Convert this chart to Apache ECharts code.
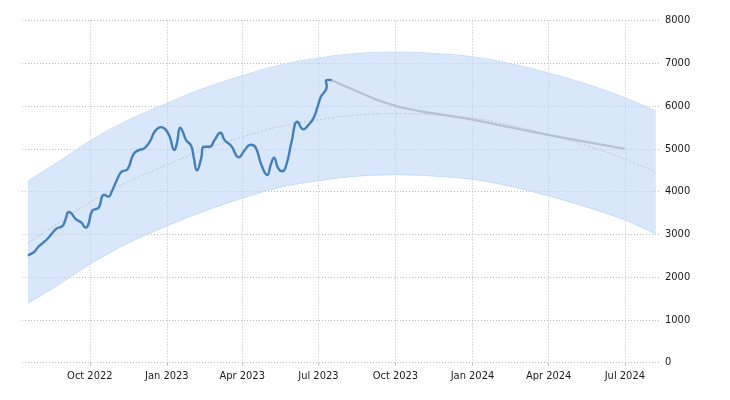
<!DOCTYPE html>
<html><head><meta charset="utf-8">
<style>html,body{margin:0;padding:0;background:#fff}#c{width:730px;height:400px}</style>
<script src="https://cdn.jsdelivr.net/npm/echarts@6/dist/echarts.min.js"></script>
</head><body><div id="c"></div>
<script>
const tickDates=['2022-10-01','2023-01-01','2023-04-01','2023-07-01','2023-10-01','2024-01-01','2024-04-01','2024-07-01'];
const tickLabels=['Oct 2022','Jan 2023','Apr 2023','Jul 2023','Oct 2023','Jan 2024','Apr 2024','Jul 2024'];
const yTicks=[0,1000,2000,3000,4000,5000,6000,7000,8000];

const actual=[
['2022-07-19',2509],['2022-07-22',2533],['2022-07-27',2593],['2022-07-31',2696],['2022-08-06',2797],
['2022-08-12',2907],['2022-08-18',3047],['2022-08-23',3140],['2022-08-29',3187],['2022-09-01',3294],
['2022-09-06',3521],['2022-09-09',3491],['2022-09-14',3357],['2022-09-21',3271],['2022-09-26',3154],
['2022-09-29',3217],['2022-10-04',3551],['2022-10-10',3598],['2022-10-12',3631],['2022-10-18',3925],
['2022-10-23',3879],['2022-10-27',3988],['2022-11-02',4257],['2022-11-08',4463],['2022-11-15',4519],
['2022-11-22',4869],['2022-11-28',4963],['2022-12-05',5009],['2022-12-12',5180],['2022-12-18',5414],
['2022-12-25',5507],['2022-12-30',5460],['2023-01-04',5304],['2023-01-10',4970],['2023-01-13',5126],
['2023-01-17',5491],['2023-01-20',5397],['2023-01-24',5203],['2023-01-30',5070],['2023-02-02',4813],
['2023-02-06',4495],['2023-02-11',4776],['2023-02-14',5047],['2023-02-21',5047],['2023-02-27',5203],
['2023-03-06',5374],['2023-03-11',5203],['2023-03-19',5063],['2023-03-28',4799],['2023-04-04',4970],
['2023-04-11',5093],['2023-04-17',5033],['2023-04-24',4619],['2023-05-01',4386],['2023-05-05',4619],
['2023-05-09',4790],['2023-05-14',4542],['2023-05-19',4472],['2023-05-24',4643],['2023-05-30',5164],
['2023-06-06',5631],['2023-06-13',5453],['2023-06-19',5554],['2023-06-25',5710],['2023-06-30',5981],
['2023-07-04',6215],['2023-07-11',6449],['2023-07-10',6590],['2023-07-13',6612],['2023-07-17',6605]
];
const forecast=[
['2023-07-17',6605],['2023-08-11',6388],['2023-09-08',6154],['2023-10-02',5998],['2023-10-30',5881],
['2023-11-23',5804],['2024-01-01',5682],['2024-02-02',5554],['2024-04-02',5320],['2024-07-01',5000]
];
const bandDates=['2022-07-19','2022-08-26','2022-10-01','2022-11-15','2023-01-01','2023-02-15','2023-04-01','2023-05-16','2023-07-01','2023-08-15','2023-10-01','2023-11-15','2024-01-01','2024-02-15','2024-04-01','2024-05-16','2024-07-01','2024-08-07'];
const bandHigh=[4245,4713,5180,5659,6061,6418,6706,6956,7119,7224,7259,7229,7149,6991,6769,6512,6191,5881];
const bandLow=[1383,1839,2299,2785,3194,3544,3841,4098,4252,4357,4392,4362,4285,4124,3895,3638,3334,3007];
const bandMid=[2797,3280,3743,4222,4619,4981,5273,5519,5677,5787,5822,5792,5717,5554,5327,5075,4759,4439];

const ts=s=>Date.parse(s+'T00:00:00Z');
const pairs=a=>a.map(p=>[ts(p[0]),p[1]]);
const zip=v=>bandDates.map((d,i)=>[ts(d),v[i]]);
const tickVals=tickDates.map(ts);
const font='"DejaVu Sans Condensed","DejaVu Sans",sans-serif';
const gridLine={show:true,lineStyle:{color:'#bdbdbd',width:1,type:[1,2]}};
const chart=echarts.init(document.getElementById('c'),null,{renderer:'canvas'});
chart.setOption({
  animation:false,
  grid:{left:22,right:70,top:20.5,bottom:37.5,containLabel:false},
  xAxis:{type:'value',min:ts('2022-07-12'),max:ts('2024-08-12'),
    axisLine:{show:false},
    axisTick:{show:true,length:3,customValues:tickVals,lineStyle:{color:'#bdbdbd'}},
    axisLabel:{show:true,customValues:tickVals,margin:7,color:'#1a1a1a',fontFamily:font,fontSize:11,
      hideOverlap:false,padding:[1,0,0,0],
      formatter:v=>{const i=tickVals.indexOf(+v);return i>=0?tickLabels[i]:'';}},
    splitLine:gridLine},
  yAxis:{type:'value',position:'right',min:yTicks[0],max:yTicks[yTicks.length-1],interval:yTicks[1]-yTicks[0],
    axisLine:{show:false},axisTick:{show:false},
    axisLabel:{margin:5,color:'#1a1a1a',fontFamily:font,fontSize:11,padding:[3,0,0,0],formatter:v=>String(v)},
    splitLine:gridLine},
  series:[
    {name:'bandFill',type:'custom',silent:true,z:1,data:[0],coordinateSystem:'cartesian2d',
     encode:{x:[],y:[]},
     renderItem:(params,api)=>{
       const lo=bandDates.map((d,i)=>api.coord([ts(d),bandLow[i]]));
       const hi=bandDates.map((d,i)=>api.coord([ts(d),bandHigh[i]])).reverse();
       return {type:'polygon',shape:{points:lo.concat(hi)},style:{fill:'rgba(190,215,247,0.6)'}};
     }},
    {name:'low',type:'line',data:zip(bandLow),smooth:true,symbol:'none',silent:true,z:1,
     lineStyle:{color:'#c6dbf8',width:1}},
    {name:'high',type:'line',data:zip(bandHigh),smooth:true,symbol:'none',silent:true,z:1,
     lineStyle:{color:'#c6dbf8',width:1}},
    {name:'mid',type:'line',data:zip(bandMid),smooth:true,symbol:'none',silent:true,z:2,
     lineStyle:{color:'#bcc6d8',width:1,type:[2,2]}},
    {name:'forecast',type:'line',data:pairs(forecast),smooth:true,symbol:'none',silent:true,z:3,
     lineStyle:{color:'#b7c1d3',width:2.2}},
    {name:'actual',type:'line',data:pairs(actual),smooth:true,symbol:'none',silent:true,z:4,
     lineStyle:{color:'#437fbd',width:2.4}}
  ]
});
</script></body></html>
